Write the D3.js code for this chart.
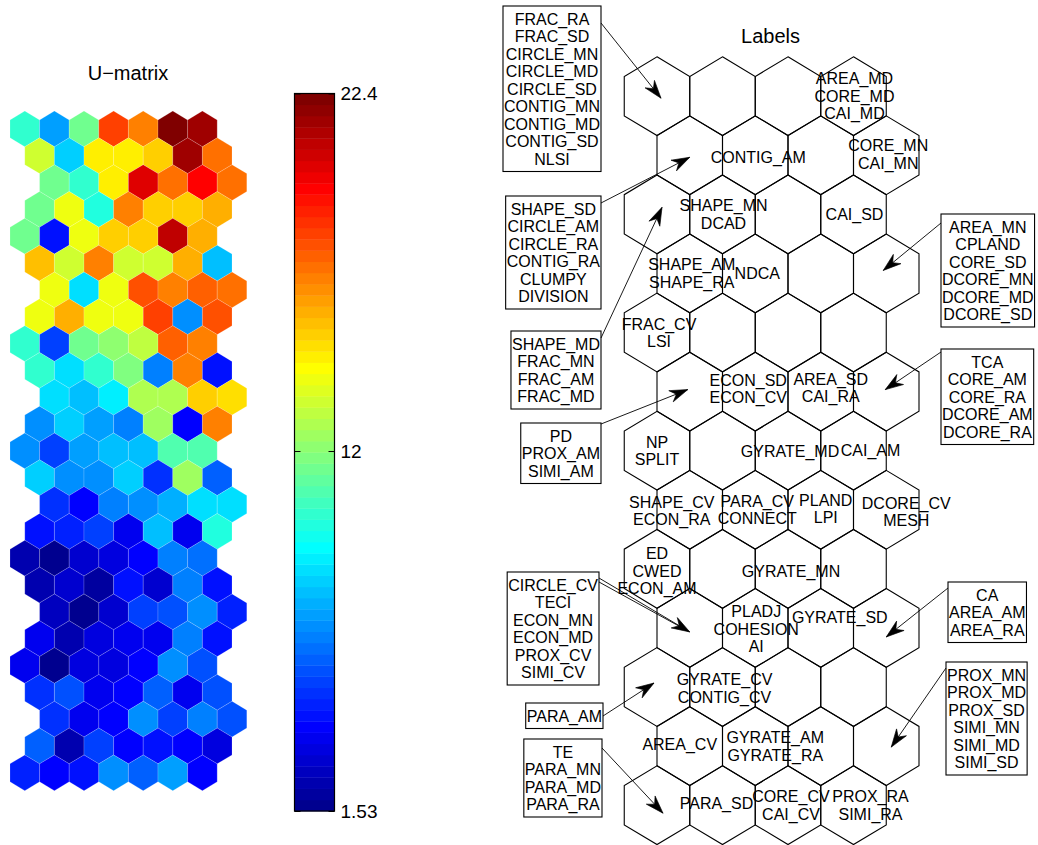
<!DOCTYPE html>
<html><head><meta charset="utf-8">
<script src="https://cdn.jsdelivr.net/npm/d3@7"></script>
<style>
html,body{margin:0;padding:0;background:#fff;}
svg{display:block;}
text{font-family:"Liberation Sans",Arial,Helvetica,sans-serif;fill:#000;}
</style></head><body>
<svg id="chart" width="1038" height="845"></svg>
<script>
// U-matrix values (25 rows x 7 columns, top row first)
const umatrix = [
  [10.3, 7.3, 11.4, 18.4, 17.0, 22.4, 21.6],
  [13.5, 8.3, 14.6, 14.6, 15.3, 21.6, 17.2],
  [11.4, 10.1, 14.6, 20.4, 17.5, 19.5, 17.2],
  [11.4, 14.2, 9.7, 17.0, 15.3, 15.3, 16.1],
  [11.4, 4.3, 14.0, 15.5, 15.5, 20.8, 16.1],
  [15.6, 13.3, 17.0, 13.5, 13.5, 16.1, 7.8],
  [14.2, 8.6, 14.0, 18.1, 17.0, 17.8, 17.5],
  [14.2, 16.1, 14.2, 14.0, 18.4, 6.8, 18.1],
  [10.3, 5.2, 11.4, 12.2, 13.0, 17.8, 17.0],
  [10.3, 8.5, 10.3, 11.7, 6.5, 17.0, 4.3],
  [8.5, 8.0, 9.0, 12.8, 12.8, 15.3, 15.2],
  [6.8, 8.3, 7.3, 6.5, 12.5, 4.1, 17.0],
  [6.8, 5.2, 7.3, 8.0, 8.0, 10.9, 10.9],
  [8.3, 6.8, 6.8, 8.3, 4.9, 12.5, 5.9],
  [4.9, 3.9, 6.5, 6.8, 7.6, 8.6, 8.6],
  [4.4, 4.6, 5.4, 3.8, 7.8, 3.8, 9.7],
  [2.3, 1.6, 3.0, 3.2, 3.9, 6.5, 6.3],
  [2.2, 3.0, 2.1, 4.4, 3.0, 6.5, 4.4],
  [2.8, 1.6, 3.0, 5.4, 5.6, 7.0, 4.6],
  [3.8, 2.5, 3.3, 3.5, 3.8, 6.5, 4.4],
  [3.8, 1.8, 3.3, 3.3, 3.9, 7.0, 5.5],
  [4.9, 5.6, 3.8, 4.0, 5.9, 3.8, 5.6],
  [4.9, 3.8, 4.1, 7.0, 5.2, 6.5, 5.6],
  [5.9, 2.3, 5.2, 4.1, 4.4, 4.1, 3.3],
  [4.6, 4.0, 4.4, 7.0, 5.9, 7.3, 4.1]
];
const colorLimits = [1.53, 22.4];
const colorbarTicks = [1.53, 12, 22.4];
const colorbarTickLabels = ["1.53", "12", "22.4"];

// SOM grid of the label map
const mapRows = 13;
const mapCols = 4;

// Labels written directly inside map units
const hexLabels = [
  {row: 0, col: 3, text: ["AREA_MD", "CORE_MD", "CAI_MD"]},
  {row: 1, col: 1, text: ["CONTIG_AM"]},
  {row: 1, col: 3, text: ["CORE_MN", "CAI_MN"]},
  {row: 2, col: 1, text: ["SHAPE_MN", "DCAD"]},
  {row: 2, col: 3, text: ["CAI_SD"]},
  {row: 3, col: 0, text: ["SHAPE_AM", "SHAPE_RA"]},
  {row: 3, col: 1, text: ["NDCA"]},
  {row: 4, col: 0, text: ["FRAC_CV", "LSI"]},
  {row: 5, col: 1, text: ["ECON_SD", "ECON_CV"]},
  {row: 5, col: 2, text: ["AREA_SD", "CAI_RA"]},
  {row: 6, col: 0, text: ["NP", "SPLIT"]},
  {row: 6, col: 2, text: ["GYRATE_MD"]},
  {row: 6, col: 3, text: ["CAI_AM"]},
  {row: 7, col: 0, text: ["SHAPE_CV", "ECON_RA"]},
  {row: 7, col: 1, text: ["PARA_CV", "CONNECT"]},
  {row: 7, col: 2, text: ["PLAND", "LPI"]},
  {row: 7, col: 3, text: ["DCORE_CV", "MESH"]},
  {row: 8, col: 0, text: ["ED", "CWED", "ECON_AM"]},
  {row: 8, col: 2, text: ["GYRATE_MN"]},
  {row: 9, col: 1, text: ["PLADJ", "COHESION", "AI"]},
  {row: 9, col: 2, text: ["GYRATE_SD"]},
  {row: 10, col: 1, text: ["GYRATE_CV", "CONTIG_CV"]},
  {row: 11, col: 0, text: ["AREA_CV"]},
  {row: 11, col: 1, text: ["GYRATE_AM", "GYRATE_RA"]},
  {row: 12, col: 1, text: ["PARA_SD"]},
  {row: 12, col: 2, text: ["CORE_CV", "CAI_CV"]},
  {row: 12, col: 3, text: ["PROX_RA", "SIMI_RA"]}
];

// Labels gathered in boxes with an arrow to their map unit
const callouts = [
  {row: 0, col: 0, text: ["FRAC_RA", "FRAC_SD", "CIRCLE_MN", "CIRCLE_MD", "CIRCLE_SD", "CONTIG_MN", "CONTIG_MD", "CONTIG_SD", "NLSI"]},
  {row: 1, col: 0, text: ["SHAPE_SD", "CIRCLE_AM", "CIRCLE_RA", "CONTIG_RA", "CLUMPY", "DIVISION"]},
  {row: 2, col: 0, text: ["SHAPE_MD", "FRAC_MN", "FRAC_AM", "FRAC_MD"]},
  {row: 5, col: 0, text: ["PD", "PROX_AM", "SIMI_AM"]},
  {row: 3, col: 3, text: ["AREA_MN", "CPLAND", "CORE_SD", "DCORE_MN", "DCORE_MD", "DCORE_SD"]},
  {row: 5, col: 3, text: ["TCA", "CORE_AM", "CORE_RA", "DCORE_AM", "DCORE_RA"]},
  {row: 9, col: 0, text: ["CIRCLE_CV", "TECI", "ECON_MN", "ECON_MD", "PROX_CV", "SIMI_CV"]},
  {row: 10, col: 0, text: ["PARA_AM"]},
  {row: 12, col: 0, text: ["TE", "PARA_MN", "PARA_MD", "PARA_RA"]},
  {row: 9, col: 3, text: ["CA", "AREA_AM", "AREA_RA"]},
  {row: 11, col: 3, text: ["PROX_MN", "PROX_MD", "PROX_SD", "SIMI_MN", "SIMI_MD", "SIMI_SD"]}
];

// ---- layout -------------------------------------------------------------
// hand-placed text offsets (px) for the in-map labels, same order as hexLabels
const labelShift = [
  [1, 0], [3, 2], [2, -1], [1, 0], [1, 0], [2, 0], [2, 0], [2, 0], [-7, -3], [10, -4],
  [0, 0], [2, 1], [17, 0], [-18, 1], [2, 0], [5, -1], [20, 2], [0, 2], [3, 2], [1, 1],
  [19, -11], [2, 1], [-10, -2], [20, 0], [-6, -2], [3, 0], [17, 0]
];
// box placement: side, anchor edge x, top y, arrow start offset, arrow tip offset
const calloutLayout = [
  {side: "L", edge: 601, top: 6, start: 17, tip: [4, 2]},
  {side: "L", edge: 601, top: 196, start: 7, tip: [0, 2]},
  {side: "L", edge: 601, top: 331, start: 7, tip: [5, -7]},
  {side: "L", edge: 601, top: 423, start: 1, tip: [-2, -2]},
  {side: "R", edge: 941, top: 214, start: 9, tip: [-3, -3]},
  {side: "R", edge: 941, top: 349, start: 3, tip: [-1, -2]},
  {side: "L", edge: 599, top: 572, start: 6, tip: [0, 4], double: true},
  {side: "L", edge: 603, top: 703, start: 13, tip: [-3, -4]},
  {side: "L", edge: 602, top: 739, start: 9, tip: [6, 8]},
  {side: "R", edge: 948, top: 582, start: 6, tip: [0, 9]},
  {side: "R", edge: 946, top: 662, start: 6, tip: [5, 1]}
];

const svg = d3.select("#chart");
const FONT = 16, LINE = 17.5;

// MATLAB jet(m) colormap
function jet(m) {
  const n = Math.ceil(m / 4);
  const u = [];
  for (let i = 1; i <= n; i++) u.push(i / n);
  for (let i = 1; i < n; i++) u.push(1);
  for (let i = n; i >= 1; i--) u.push(i / n);
  const g0 = Math.ceil(n / 2) - (m % 4 === 1 ? 1 : 0);
  const J = Array.from({length: m}, () => [0, 0, 0]);
  u.forEach((val, k) => {
    const g = g0 + k + 1, r = g + n, b = g - n;
    if (r >= 1 && r <= m) J[r - 1][0] = val;
    if (g >= 1 && g <= m) J[g - 1][1] = val;
    if (b >= 1 && b <= m) J[b - 1][2] = val;
  });
  return J.map(c => d3.rgb(c[0] * 255, c[1] * 255, c[2] * 255).formatHex());
}
const cmap = jet(64);
const colorIndex = d3.scaleQuantize().domain(colorLimits).range(d3.range(64));
const colorOf = v => cmap[colorIndex(Math.max(colorLimits[0], Math.min(colorLimits[1], v)))];

function hexPath(w, h) {
  const pts = [[0, -h / 2], [w / 2, -h / 4], [w / 2, h / 4], [0, h / 2], [-w / 2, h / 4], [-w / 2, -h / 4]];
  return "M" + pts.map(p => p.join(",")).join("L") + "Z";
}

// ---------------- U-matrix ----------------
const uX = d3.scaleLinear().domain([0, 7]).range([24.8, 24.8 + 7 * 29.6]);
const uY = d3.scaleLinear().domain([0, 24]).range([128.9, 772.8]);
const uShift = r => [0, 0.5, 1, 0.5][r % 4];
const uW = uX(1) - uX(0), uH = (uY(1) - uY(0)) * 4 / 3;
const uCells = [];
umatrix.forEach((row, r) => row.forEach((v, c) => uCells.push({r, c, v})));

svg.append("g").selectAll("path").data(uCells).join("path")
  .attr("transform", d => `translate(${uX(d.c + uShift(d.r))},${uY(d.r)})`)
  .attr("d", hexPath(uW, uH))
  .attr("fill", d => colorOf(d.v))
  .attr("stroke", "rgba(255,255,255,0.28)")
  .attr("stroke-width", 0.6);

svg.append("text").attr("x", 128).attr("y", 80).attr("text-anchor", "middle")
  .style("font-size", "20px").text("U\u2212matrix");

// ---------------- colour bar ----------------
const cbX0 = 294.5, cbX1 = 334.5;
const cbY = d3.scaleLinear().domain(colorLimits).range([811, 93.5]);
const step = (colorLimits[1] - colorLimits[0]) / 64;
const cb = svg.append("g");
cb.selectAll("rect").data(d3.range(64)).join("rect")
  .attr("x", cbX0).attr("width", cbX1 - cbX0)
  .attr("y", i => cbY(colorLimits[0] + (i + 1) * step))
  .attr("height", i => cbY(colorLimits[0] + i * step) - cbY(colorLimits[0] + (i + 1) * step) + 0.4)
  .attr("fill", i => cmap[i]);
cb.append("rect").attr("x", cbX0).attr("y", cbY(colorLimits[1]))
  .attr("width", cbX1 - cbX0).attr("height", cbY(colorLimits[0]) - cbY(colorLimits[1]))
  .attr("fill", "none").attr("stroke", "#000").attr("stroke-width", 1.2);

const tickFmt = d => colorbarTickLabels[colorbarTicks.indexOf(d)];
const axR = cb.append("g").attr("transform", `translate(${cbX1},0)`)
  .call(d3.axisLeft(cbY).tickValues(colorbarTicks).tickSize(6).tickFormat(""));
const axL = cb.append("g").attr("transform", `translate(${cbX0},0)`)
  .call(d3.axisRight(cbY).tickValues(colorbarTicks).tickSize(6).tickFormat(""));
const axT = cb.append("g").attr("transform", `translate(${cbX1},0)`)
  .call(d3.axisRight(cbY).tickValues(colorbarTicks).tickSize(0).tickPadding(6).tickFormat(tickFmt));
[axR, axL, axT].forEach(a => { a.select(".domain").remove(); a.selectAll("line").attr("stroke", "#000"); });
axT.selectAll("text").style("font-size", "19px").style("font-family", '"Liberation Sans",Arial,sans-serif');

// ---------------- label map ----------------
const lX = d3.scaleLinear().domain([0, 3]).range([657, 853.5]);
const lY = d3.scaleLinear().domain([0, 12]).range([96.2, 805.2]);
const unitX = (r, c) => lX(c + (r % 2) * 0.5);
const unitY = r => lY(r);
const lW = lX(1) - lX(0), lH = (lY(1) - lY(0)) * 4 / 3;

const units = [];
for (let r = 0; r < mapRows; r++) for (let c = 0; c < mapCols; c++) units.push({r, c});
svg.append("g").selectAll("path").data(units).join("path")
  .attr("transform", d => `translate(${unitX(d.r, d.c)},${unitY(d.r)})`)
  .attr("d", hexPath(lW, lH))
  .attr("fill", "none").attr("stroke", "#000").attr("stroke-width", 1.1);

svg.append("text").attr("x", 770.5).attr("y", 43).attr("text-anchor", "middle")
  .style("font-size", "20px").text("Labels");

function multiLine(g, lines, cx, cy) {
  const n = lines.length;
  lines.forEach((s, i) => {
    g.append("text").attr("x", cx)
      .attr("y", cy + (i - (n - 1) / 2) * LINE + FONT * 0.36)
      .attr("text-anchor", "middle").style("font-size", FONT + "px").text(s);
  });
}

const labelG = svg.append("g");
hexLabels.forEach((d, i) => {
  const [dx, dy] = labelShift[i];
  multiLine(labelG, d.text, unitX(d.row, d.col) + dx, unitY(d.row) + dy);
});

// ---------------- callout boxes with arrows ----------------
const arrowL = 18, arrowW = 12;
function arrowHead(g, x0, y0, x1, y1) {
  const ang = Math.atan2(y1 - y0, x1 - x0) * 180 / Math.PI;
  g.append("path")
    .attr("d", `M0,0L${-arrowL},${-arrowW / 2}L${-arrowL * 0.68},0L${-arrowL},${arrowW / 2}Z`)
    .attr("transform", `translate(${x1},${y1}) rotate(${ang})`)
    .attr("fill", "#000").attr("stroke", "#000").attr("stroke-width", 0.6);
}

const boxG = svg.append("g");
callouts.forEach((d, i) => {
  const L = calloutLayout[i];
  const g = boxG.append("g");
  const n = d.text.length;
  const h = n * LINE + 8;
  const tmp = d.text.map(s => g.append("text").style("font-size", FONT + "px").text(s));
  const tw = d3.max(tmp, t => t.node().getComputedTextLength());
  tmp.forEach(t => t.remove());
  const w = tw + 2;
  const x0 = L.side === "L" ? L.edge - w : L.edge;
  g.append("rect").attr("x", x0).attr("y", L.top).attr("width", w).attr("height", h)
    .attr("fill", "#fff").attr("stroke", "#000").attr("stroke-width", 1.1);
  d.text.forEach((s, k) => {
    g.append("text").attr("x", x0 + w / 2)
      .attr("y", L.top + 13 + k * LINE + FONT * 0.36)
      .attr("text-anchor", "middle").style("font-size", FONT + "px").text(s);
  });
  const sx = L.edge, sy = L.top + L.start;
  const tx = unitX(d.row, d.col) + L.tip[0], ty = unitY(d.row) + L.tip[1];
  g.append("line").attr("x1", sx).attr("y1", sy).attr("x2", tx).attr("y2", ty)
    .attr("stroke", "#000").attr("stroke-width", 0.9);
  if (L.double) {
    g.append("line").attr("x1", sx).attr("y1", sy + 4).attr("x2", tx - 2).attr("y2", ty - 1)
      .attr("stroke", "#000").attr("stroke-width", 0.9);
  }
  arrowHead(g, sx, sy, tx, ty);
});
</script>
</body></html>
